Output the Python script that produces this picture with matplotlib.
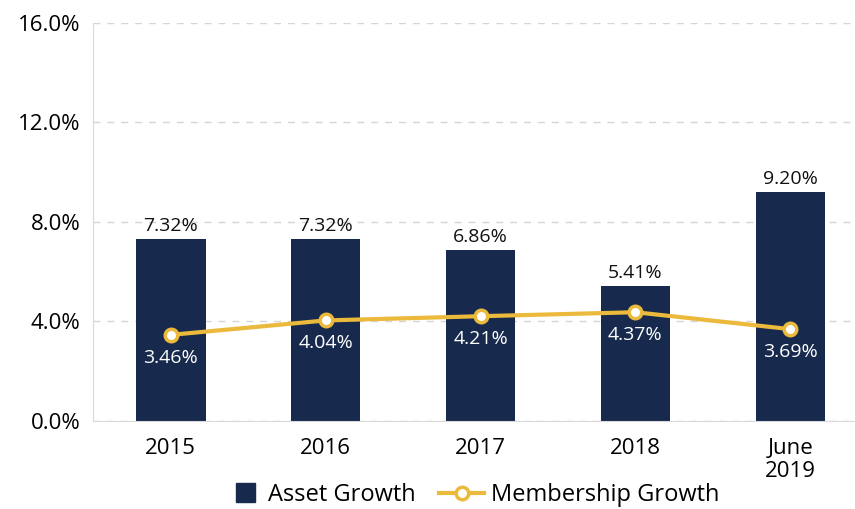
import matplotlib.pyplot as plt
import matplotlib.patches as mpatches
from matplotlib.legend_handler import HandlerPatch
import numpy as np

plt.rcParams['font.family'] = ['Open Sans', 'DejaVu Sans']

categories = ['2015', '2016', '2017', '2018', 'June\n2019']
asset_growth = [7.32, 7.32, 6.86, 5.41, 9.20]
membership_growth = [3.46, 4.04, 4.21, 4.37, 3.69]
y_ticks = [0, 4, 8, 12, 16]

navy = '#172a4d'
gold = '#ebb93b'

fig = plt.figure(figsize=(8.55, 5.09), dpi=100)
ax = fig.add_axes([0.109, 0.173, 0.906, 0.782])

x = np.arange(len(categories))
bars = ax.bar(x, asset_growth, width=0.45, color=navy, label='Asset Growth', zorder=2)
line, = ax.plot(x, membership_growth, color=gold, lw=3, marker='o', markersize=9,
                markerfacecolor='white', markeredgecolor=gold, markeredgewidth=2.5,
                label='Membership Growth', zorder=3)

for xi, v in zip(x, asset_growth):
    ax.annotate(f'{v:.2f}%', (xi, v), xytext=(0, 3), textcoords='offset points',
                ha='center', va='bottom', fontsize=14, color='#111111')
for xi, v in zip(x, membership_growth):
    ax.annotate(f'{v:.2f}%', (xi, v), xytext=(0, -10), textcoords='offset points',
                ha='center', va='top', fontsize=14, color='white', zorder=4)

ax.set_ylim(0, 16)
ax.set_xlim(-0.5, 4.5)
ax.set_yticks(y_ticks)
ax.set_yticklabels([f'{t:.1f}%' for t in y_ticks], fontsize=16)
ax.set_xticks(x)
ax.set_xticklabels(categories, fontsize=16, linespacing=1.15)
ax.tick_params(axis='y', length=0, pad=9)
ax.tick_params(axis='x', length=0, pad=12)
ax.yaxis.grid(True, linestyle=(0, (5, 5)), color='#d5d5d5', lw=1, zorder=0)
ax.set_axisbelow(True)

for s in ['top', 'right']:
    ax.spines[s].set_visible(False)
ax.spines['left'].set_color('#d9d9d9')
ax.spines['bottom'].set_color('#d9d9d9')


def square_patch(legend, orig_handle, xdescent, ydescent, width, height, fontsize):
    side = height * 1.15
    return mpatches.Rectangle((xdescent + width - side - 4, ydescent + (height - side) / 2),
                              side, side)


bar_handle = mpatches.Patch(color=navy)
fig.legend(handles=[bar_handle, line], labels=['Asset Growth', 'Membership Growth'],
           loc='lower center', bbox_to_anchor=(0.547, -0.038), ncol=2, frameon=False,
           fontsize=17, handlelength=1.9, handletextpad=0.3, columnspacing=1.0,
           handler_map={bar_handle: HandlerPatch(patch_func=square_patch)})

fig.savefig('out.png', dpi=100)
